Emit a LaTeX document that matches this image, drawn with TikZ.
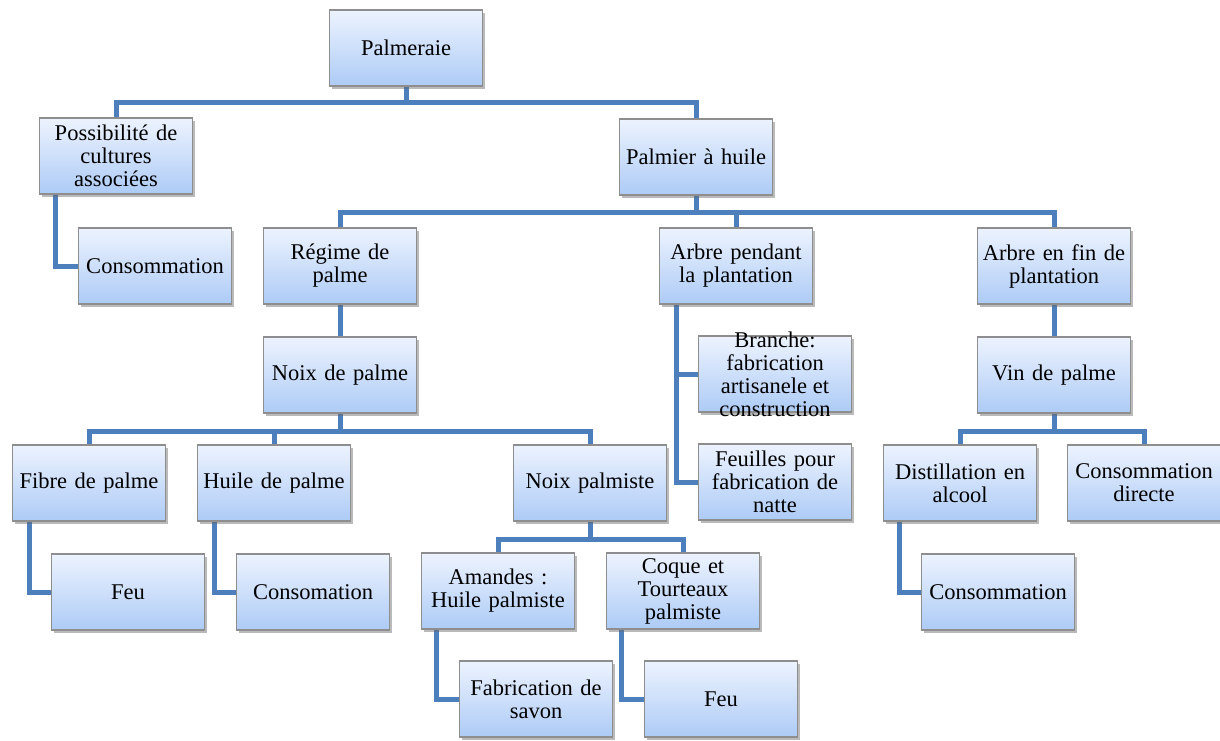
\documentclass[tikz,border=0pt]{standalone}
\usepackage{fontspec}
\setmainfont{Liberation Serif}
\usetikzlibrary{shadows,backgrounds}
\definecolor{linkblue}{HTML}{4C7FBC}
\definecolor{boxtop}{HTML}{EDF3FE}
\definecolor{boxbot}{HTML}{ADCBF6}
\definecolor{boxline}{HTML}{8E8E8E}
\tikzset{
  boxfont/.style={font=\fontsize{22.5}{23}\selectfont},
  box/.style={draw=boxline, line width=1.1pt, top color=boxtop, bottom color=boxbot,
    minimum width=153pt, minimum height=76pt, inner sep=2pt, align=center,
    text width=149pt, boxfont,
    drop shadow={shadow xshift=2.5pt, shadow yshift=-2.5pt, opacity=0.45, fill=black!60}},
  conn/.style={draw=linkblue, line width=5pt}
}
\begin{document}
\begin{tikzpicture}[x=1pt,y=-1pt]
\useasboundingbox (0,0) rectangle (1220,740);

% level 0 and 1
\node[box] (palm)  at (406,48)  {Palmeraie};
\node[box] (poss)  at (116,156) {Possibilité de\\cultures\\associées};
\node[box] (consA) at (155,266) {Consommation};
\node[box] (palh)  at (696,157) {Palmier à huile};

% oil palm branches
\node[box] (reg)   at (340,266) {Régime de\\palme};
\node[box] (arbp)  at (736,266) {Arbre pendant\\la plantation};
\node[box] (arbf)  at (1054,266) {Arbre en fin de\\plantation};

\node[box] (noix)  at (340,375) {Noix de palme};
\node[box, label={[align=center, boxfont]center:{Branche:\\fabrication\\artisanele et\\construction}}]
               (bran) at (775,374) {};
\node[box] (feui)  at (775,482) {Feuilles pour\\fabrication de\\natte};
\node[box] (vin)   at (1054,375) {Vin de palme};

% nut products
\node[box] (fibre) at (89,483)  {Fibre de palme};
\node[box] (huile) at (274,483) {Huile de palme};
\node[box] (npal)  at (590,483) {Noix palmiste};
\node[box] (dist)  at (960,483) {Distillation en\\alcool};
\node[box] (cdir)  at (1144,483) {Consommation\\directe};

\node[box] (feuA)  at (128,592) {Feu};
\node[box] (consB) at (313,592) {Consomation};
\node[box] (amand) at (498,591) {Amandes :\\Huile palmiste};
\node[box] (coque) at (683,591) {Coque et\\Tourteaux\\palmiste};
\node[box] (consC) at (998,592) {Consommation};

\node[box] (savon) at (536,699) {Fabrication de\\savon};
\node[box] (feuB)  at (721,699) {Feu};

% connectors behind the boxes
\begin{pgfonlayer}{background}
  \draw[conn] (palm.south) -- ++(0,16) -| (poss.north);
  \draw[conn] (palm.south) -- ++(0,16) -| (palh.north);
  \draw[conn] ([xshift=17pt]poss.south west) |- (consA.west);

  \draw[conn] (palh.south) -- ++(0,17) -| (reg.north);
  \draw[conn] (palh.south) -- ++(0,17) -| (arbp.north);
  \draw[conn] (palh.south) -- ++(0,17) -| (arbf.north);

  \draw[conn] (reg.south) -- (noix.north);
  \draw[conn] ([xshift=18pt]arbp.south west) |- (bran.west);
  \draw[conn] ([xshift=18pt]arbp.south west) |- (feui.west);
  \draw[conn] (arbf.south) -- (vin.north);

  \draw[conn] (noix.south) -- ++(0,18) -| (fibre.north);
  \draw[conn] (noix.south) -- ++(0,18) -| (huile.north);
  \draw[conn] (noix.south) -- ++(0,18) -| (npal.north);

  \draw[conn] (vin.south) -- ++(0,18) -| (dist.north);
  \draw[conn] (vin.south) -- ++(0,18) -| (cdir.north);

  \draw[conn] ([xshift=18pt]fibre.south west) |- (feuA.west);
  \draw[conn] ([xshift=18pt]huile.south west) |- (consB.west);
  \draw[conn] ([xshift=17pt]dist.south west) |- (consC.west);

  \draw[conn] (npal.south) -- ++(0,18) -| (amand.north);
  \draw[conn] (npal.south) -- ++(0,18) -| (coque.north);
  \draw[conn] ([xshift=16pt]amand.south west) |- (savon.west);
  \draw[conn] ([xshift=16pt]coque.south west) |- (feuB.west);
\end{pgfonlayer}
\end{tikzpicture}
\end{document}
